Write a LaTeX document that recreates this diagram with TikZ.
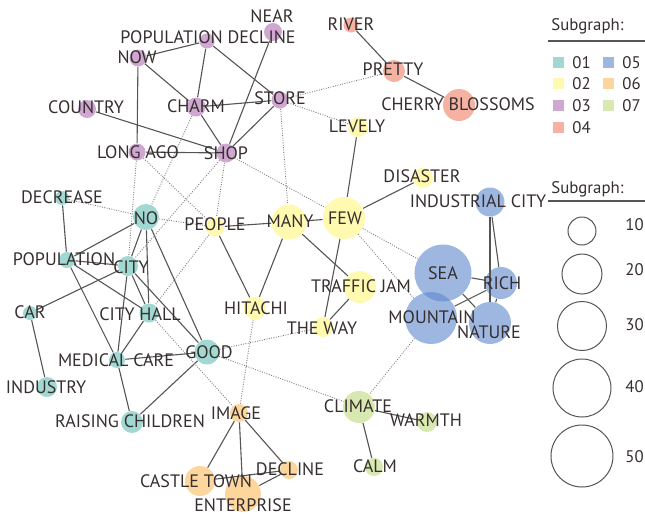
\documentclass[tikz,border=0pt]{standalone}
\usepackage{fontspec}
\setmainfont{PT Sans}

\definecolor{ink}{HTML}{362E2F}
\definecolor{tiegray}{HTML}{555555}
\definecolor{linkgray}{HTML}{7A7A7A}
\definecolor{sg01}{RGB}{98,192,180}
\definecolor{sg02}{RGB}{255,247,122}
\definecolor{sg03}{RGB}{175,108,177}
\definecolor{sg04}{RGB}{238,125,98}
\definecolor{sg05}{RGB}{92,135,205}
\definecolor{sg06}{RGB}{252,187,93}
\definecolor{sg07}{RGB}{188,218,123}

\tikzset{
  bub/.style={circle, inner sep=0pt, draw=none, fill opacity=0.6},
  s1/.style={bub, fill=sg01}, s2/.style={bub, fill=sg02},
  s3/.style={bub, fill=sg03}, s4/.style={bub, fill=sg04},
  s5/.style={bub, fill=sg05}, s6/.style={bub, fill=sg06},
  s7/.style={bub, fill=sg07},
  word/.style={font=\fontsize{9}{10}\selectfont, text=ink, inner sep=0pt,
    text height=6.3pt, text depth=0pt},
  legword/.style={font=\fontsize{8.4}{10}\selectfont, text=ink, inner sep=0pt},
  tie/.style={draw=tiegray, line width=0.55pt},
  link/.style={draw=linkgray, line width=0.45pt, dash pattern=on 0.45pt off 0.75pt},
  ring/.style={circle, draw=tiegray, line width=0.5pt, inner sep=0pt},
  swatch/.style={fill opacity=0.6}
}

\begin{document}
\begin{tikzpicture}[x=0.5pt, y=-0.5pt]
\useasboundingbox (0,0) rectangle (645,516);

% bubbles, minimum size in pt = radius in px
\node[s3, minimum size=9pt] (near) at (273,32) {};
\node[s3, minimum size=7.5pt] (popdecline) at (207,41) {};
\node[s3, minimum size=8.5pt] (now) at (138,58) {};
\node[s3, minimum size=9pt] (country) at (87,109) {};
\node[s3, minimum size=9.5pt] (charm) at (196,107) {};
\node[s3, minimum size=8.5pt] (store) at (280,100) {};
\node[s3, minimum size=8.5pt] (longago) at (137,152) {};
\node[s3, minimum size=9.5pt] (shop) at (226,153) {};

\node[s4, minimum size=7.5pt] (river) at (351,25) {};
\node[s4, minimum size=11pt] (pretty) at (394,71) {};
\node[s4, minimum size=16pt] (cherry) at (459,105) {};

\node[s2, minimum size=10pt] (levely) at (358,127) {};
\node[s2, minimum size=10pt] (disaster) at (423,178) {};
\node[s2, minimum size=21pt] (few) at (344,218) {};
\node[s2, minimum size=17.5pt] (many) at (289,222) {};
\node[s2, minimum size=9.5pt] (people) at (215,227) {};
\node[s2, minimum size=16pt] (trafficjam) at (360,287) {};
\node[s2, minimum size=11.5pt] (hitachi) at (255,308) {};
\node[s2, minimum size=10pt] (theway) at (323,327) {};

\node[s5, minimum size=14.5pt] (indcity) at (490,202) {};
\node[s5, minimum size=28.5pt] (sea) at (443,273) {};
\node[s5, minimum size=16pt] (rich) at (501,283) {};
\node[s5, minimum size=26pt] (mountain) at (431,318) {};
\node[s5, minimum size=21pt] (nature) at (490,323) {};

\node[s1, minimum size=7pt] (decrease) at (62,198) {};
\node[s1, minimum size=13pt] (no) at (146,217) {};
\node[s1, minimum size=8pt] (population) at (67,260) {};
\node[s1, minimum size=10pt] (city) at (128,266) {};
\node[s1, minimum size=7pt] (car) at (30,313) {};
\node[s1, minimum size=9.5pt] (cityhall) at (149,313) {};
\node[s1, minimum size=12.5pt] (good) at (207,352) {};
\node[s1, minimum size=8pt] (medcare) at (117,360) {};
\node[s1, minimum size=10pt] (industry) at (47,387) {};
\node[s1, minimum size=11pt] (raising) at (132,422) {};

\node[s6, minimum size=9pt] (image) at (239,413) {};
\node[s6, minimum size=9pt] (decline) at (289,470) {};
\node[s6, minimum size=15pt] (castletown) at (200,481) {};
\node[s6, minimum size=18pt] (enterprise) at (243,494) {};

\node[s7, minimum size=16pt] (climate) at (359,407) {};
\node[s7, minimum size=10pt] (warmth) at (427,422) {};
\node[s7, minimum size=9pt] (calm) at (374,467) {};

% edges inside a subgraph
\draw[tie] (now) -- (popdecline);
\draw[tie] (now) -- (charm);
\draw[tie] (now) -- (longago);
\draw[tie] (popdecline) -- (charm);
\draw[tie] (popdecline) -- (store);
\draw[tie] (near) -- (shop);
\draw[tie] (charm) -- (store);
\draw[tie] (charm) -- (shop);
\draw[tie] (store) -- (shop);
\draw[tie] (country) -- (shop);
\draw[tie] (longago) -- (shop);
\draw[tie] (river) -- (pretty);
\draw[tie] (pretty) -- (cherry);
\draw[tie] (levely) -- (few);
\draw[tie] (disaster) -- (few);
\draw[tie] (many) -- (few);
\draw[tie] (people) -- (many);
\draw[tie] (people) -- (hitachi);
\draw[tie] (many) -- (hitachi);
\draw[tie] (many) -- (trafficjam);
\draw[tie] (few) -- (theway);
\draw[tie] (trafficjam) -- (theway);
\draw[tie] (indcity) -- (rich);
\draw[tie] (indcity) -- (nature);
\draw[tie] (sea) -- (rich);
\draw[tie] (sea) -- (nature);
\draw[tie] (mountain) -- (rich);
\draw[tie] (rich) -- (nature);
\draw[tie] (decrease) -- (population);
\draw[tie] (no) -- (population);
\draw[tie] (no) -- (city);
\draw[tie] (no) -- (cityhall);
\draw[tie] (no) -- (good);
\draw[tie] (population) -- (city);
\draw[tie] (population) -- (cityhall);
\draw[tie] (population) -- (medcare);
\draw[tie] (city) -- (car);
\draw[tie] (city) -- (cityhall);
\draw[tie] (city) -- (good);
\draw[tie] (city) -- (medcare);
\draw[tie] (cityhall) -- (medcare);
\draw[tie] (medcare) -- (good);
\draw[tie] (medcare) -- (raising);
\draw[tie] (good) -- (raising);
\draw[tie] (car) -- (industry);
\draw[tie] (image) -- (castletown);
\draw[tie] (image) -- (enterprise);
\draw[tie] (image) -- (decline);
\draw[tie] (castletown) -- (decline);
\draw[tie] (enterprise) -- (decline);
\draw[tie] (climate) -- (warmth);
\draw[tie] (climate) -- (calm);

% edges between subgraphs
\draw[link] (store) -- (pretty);
\draw[link] (store) -- (levely);
\draw[link] (store) -- (many);
\draw[link] (shop) -- (few);
\draw[link] (shop) -- (people);
\draw[link] (shop) -- (city);
\draw[link] (charm) -- (no);
\draw[link] (longago) -- (city);
\draw[link] (longago) -- (people);
\draw[link] (decrease) -- (no);
\draw[link] (no) -- (people);
\draw[link] (people) -- (cityhall);
\draw[link] (cityhall) -- (image);
\draw[link] (hitachi) -- (image);
\draw[link] (good) -- (theway);
\draw[link] (good) -- (climate);
\draw[link] (mountain) -- (climate);
\draw[link] (few) -- (sea);
\draw[link] (few) -- (mountain);

% words
\node[word] (near-t) at (272,16) {NEAR};
\node[word] (popdecline-t) at (208,37) {POPULATION DECLINE};
\node[word] (now-t) at (137,57) {NOW};
\node[word] (country-t) at (86,107) {COUNTRY};
\node[word] (charm-t) at (196,106) {CHARM};
\node[word] (store-t) at (280,98) {STORE};
\node[word] (longago-t) at (138,152) {LONG AGO};
\node[word] (shop-t) at (226,153) {SHOP};
\node[word] (river-t) at (351,24) {RIVER};
\node[word] (pretty-t) at (393,69) {PRETTY};
\node[word] (cherry-t) at (458,104) {CHERRY BLOSSOMS};
\node[word] (levely-t) at (357,126) {LEVELY};
\node[word] (disaster-t) at (422,176) {DISASTER};
\node[word] (indcity-t) at (478,201) {INDUSTRIAL CITY};
\node[word] (few-t) at (345,218) {FEW};
\node[word] (many-t) at (290,221) {MANY};
\node[word] (people-t) at (215,224) {PEOPLE};
\node[word] (sea-t) at (443,273) {SEA};
\node[word] (rich-t) at (502,283) {RICH};
\node[word] (trafficjam-t) at (361,286) {TRAFFIC JAM};
\node[word] (mountain-t) at (432,317) {MOUNTAIN};
\node[word] (nature-t) at (489,332) {NATURE};
\node[word] (hitachi-t) at (256,308) {HITACHI};
\node[word] (theway-t) at (322,328) {THE WAY};
\node[word] (decrease-t) at (62,197) {DECREASE};
\node[word] (no-t) at (146,218) {NO};
\node[word] (population-t) at (64,259) {POPULATION};
\node[word] (city-t) at (131,267) {CITY};
\node[word] (car-t) at (30,312) {CAR};
\node[word] (cityhall-t) at (140,314) {CITY HALL};
\node[word] (good-t) at (209,352) {GOOD};
\node[word] (medcare-t) at (116,360) {MEDICAL CARE};
\node[word] (industry-t) at (46,387) {INDUSTRY};
\node[word] (raising-t) at (130,421) {RAISING CHILDREN};
\node[word] (image-t) at (236,413) {IMAGE};
\node[word] (decline-t) at (290,469) {DECLINE};
\node[word] (castletown-t) at (196,481) {CASTLE TOWN};
\node[word] (enterprise-t) at (243,505) {ENTERPRISE};
\node[word] (climate-t) at (358,406) {CLIMATE};
\node[word] (warmth-t) at (426,420) {WARMTH};
\node[word] (calm-t) at (375,466) {CALM};

% legend: colours
\node[legword, anchor=base west] (colhead) at (551,30) {Subgraph:};
\draw[tiegray, line width=0.6pt] (548,41) -- (645,41);
\fill[sg01, swatch] (553,57) rectangle (564,68);
\fill[sg02, swatch] (553,78) rectangle (564,89);
\fill[sg03, swatch] (553,100) rectangle (564,111);
\fill[sg04, swatch] (553,122) rectangle (564,133);
\fill[sg05, swatch] (603,57) rectangle (614,68);
\fill[sg06, swatch] (603,78) rectangle (614,89);
\fill[sg07, swatch] (603,100) rectangle (614,111);
\node[legword, anchor=base west] (leg01) at (572,68) {01};
\node[legword, anchor=base west] (leg02) at (572,89) {02};
\node[legword, anchor=base west] (leg03) at (572,111) {03};
\node[legword, anchor=base west] (leg04) at (572,133) {04};
\node[legword, anchor=base west] (leg05) at (622,68) {05};
\node[legword, anchor=base west] (leg06) at (622,89) {06};
\node[legword, anchor=base west] (leg07) at (622,111) {07};

% legend: sizes
\node[legword, anchor=base west] (sizehead) at (551,193) {Subgraph:};
\draw[tiegray, line width=0.6pt] (548,201) -- (645,201);
\node[ring, minimum size=14pt] (ring10) at (582,231) {};
\node[ring, minimum size=20pt] (ring20) at (582,274) {};
\node[ring, minimum size=24.5pt] (ring30) at (582,326) {};
\node[ring, minimum size=29pt] (ring40) at (582,388) {};
\node[ring, minimum size=31pt] (ring50) at (582,456) {};
\node[legword, anchor=base west] (leg10) at (625,230) {10};
\node[legword, anchor=base west] (leg20) at (625,275) {20};
\node[legword, anchor=base west] (leg30) at (625,330) {30};
\node[legword, anchor=base west] (leg40) at (625,392) {40};
\node[legword, anchor=base west] (leg50) at (625,462) {50};
\end{tikzpicture}
\end{document}
